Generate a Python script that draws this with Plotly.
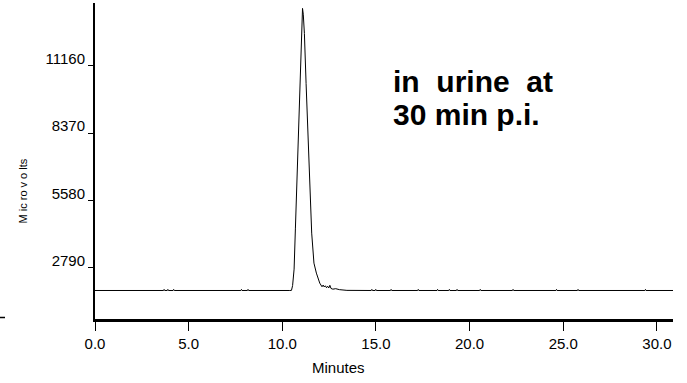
import plotly.graph_objects as go

# ---- data ----
minutes = [0.0,
           3.66, 3.69, 3.72, 3.86, 3.89, 3.92, 4.17, 4.20, 4.23,
           7.79, 7.82, 7.85, 8.14, 8.17, 8.20,
           10.40, 10.49, 10.55, 10.60, 10.63, 10.70, 10.81, 10.90, 10.98, 11.04, 11.06,
           11.08, 11.12, 11.18, 11.27, 11.41, 11.50, 11.57, 11.69, 11.82, 12.00,
           12.06, 12.12, 12.18, 12.24, 12.30, 12.36, 12.42, 12.48, 12.54, 12.60,
           12.70, 12.85, 13.05, 13.25, 13.45,
           14.75, 14.78, 14.81, 14.96, 14.99, 15.02, 15.78, 15.81, 15.84,
           17.23, 17.26, 17.29, 18.26, 18.29, 18.32, 18.89, 18.92, 18.95,
           19.30, 19.33, 19.36, 20.54, 20.57, 20.60, 22.29, 22.32, 22.35,
           24.61, 24.64, 24.67, 25.76, 25.79, 25.82, 29.36, 29.39, 29.42,
           30.90]
microvolts = [1845,
              1845, 1890, 1845, 1845, 1890, 1845, 1845, 1890, 1845,
              1845, 1890, 1845, 1845, 1890, 1845,
              1845, 1850, 2050, 2350, 2730, 4431, 7027, 9157, 11077, 12474, 13100,
              13540, 13300, 12500, 10430, 7665, 5592, 4224, 2980, 2565, 2150,
              2060, 2000, 2070, 1990, 2040, 1960, 2020, 1950, 2060, 1930,
              1900, 1920, 1880, 1870, 1850,
              1845, 1890, 1845, 1845, 1890, 1845, 1845, 1890, 1845,
              1845, 1890, 1845, 1845, 1890, 1845, 1845, 1890, 1845,
              1845, 1890, 1845, 1845, 1890, 1845, 1845, 1890, 1845,
              1845, 1890, 1845, 1845, 1890, 1845, 1845, 1890, 1845,
              1845]
x_ticks = [0, 5, 10, 15, 20, 25, 30]
y_ticks = [2790, 5580, 8370, 11160]

W, H = 687, 383
L, R, T, B = 95, 14, 3, 64
PW, PH = W - L - R, H - T - B

def px(xp):
    return (xp - L) / PW

def py(yp):
    return 1 - (yp - T) / PH

narrow = "Liberation Sans Narrow, Arial Narrow, Liberation Sans, Arial, sans-serif"

fig = go.Figure()
fig.add_trace(go.Scatter(x=minutes, y=microvolts, mode="lines",
                         line=dict(color="black", width=1), showlegend=False,
                         hoverinfo="skip"))

fig.update_layout(
    width=W, height=H,
    margin=dict(l=L, r=R, t=T, b=B, pad=0),
    paper_bgcolor="white", plot_bgcolor="white",
    xaxis=dict(range=[0, 30.86], tickvals=x_ticks,
               ticktext=[f"{v:.1f}" for v in x_ticks],
               showgrid=False, zeroline=False, showline=True,
               linecolor="black", linewidth=2.5, ticks="outside",
               ticklen=9, tickwidth=1, tickcolor="black",
               tickfont=dict(family=narrow, size=15, color="black")),
    yaxis=dict(range=[663, 13764], tickvals=y_ticks,
               ticktext=[str(v) for v in y_ticks],
               showgrid=False, zeroline=False, showline=True,
               linecolor="black", linewidth=2, ticks="outside",
               ticklen=5, tickwidth=1, tickcolor="black",
               ticklabelshift=-7,
               tickfont=dict(family=narrow, size=15, color="black")),
    annotations=[
        dict(text="in\u00a0 urine\u00a0 at", xref="paper", yref="paper",
             x=px(391), y=py(81.2), xanchor="left", yanchor="middle",
             showarrow=False,
             font=dict(family="Liberation Sans, Arial", size=30, color="black",
                       weight="bold")),
        dict(text="30 min p.i.", xref="paper", yref="paper",
             x=px(391), y=py(114.5), xanchor="left", yanchor="middle",
             showarrow=False,
             font=dict(family="Liberation Sans, Arial", size=30, color="black",
                       weight="bold")),
        dict(text="Minutes", xref="paper", yref="paper",
             x=px(338.3), y=py(367), xanchor="center", yanchor="middle",
             showarrow=False,
             font=dict(family=narrow, size=15, color="black")),
        dict(text="M ic ro v o lts", xref="paper", yref="paper",
             x=px(22), y=py(191.5), xanchor="center", yanchor="middle",
             textangle=-90, showarrow=False,
             font=dict(family="Liberation Sans, Arial", size=11, color="black")),
    ],
    shapes=[dict(type="line", xref="paper", yref="paper",
                 x0=px(0), x1=px(5), y0=py(317.5), y1=py(317.5),
                 line=dict(color="black", width=1.5))],
)

fig.write_html("out.html")
